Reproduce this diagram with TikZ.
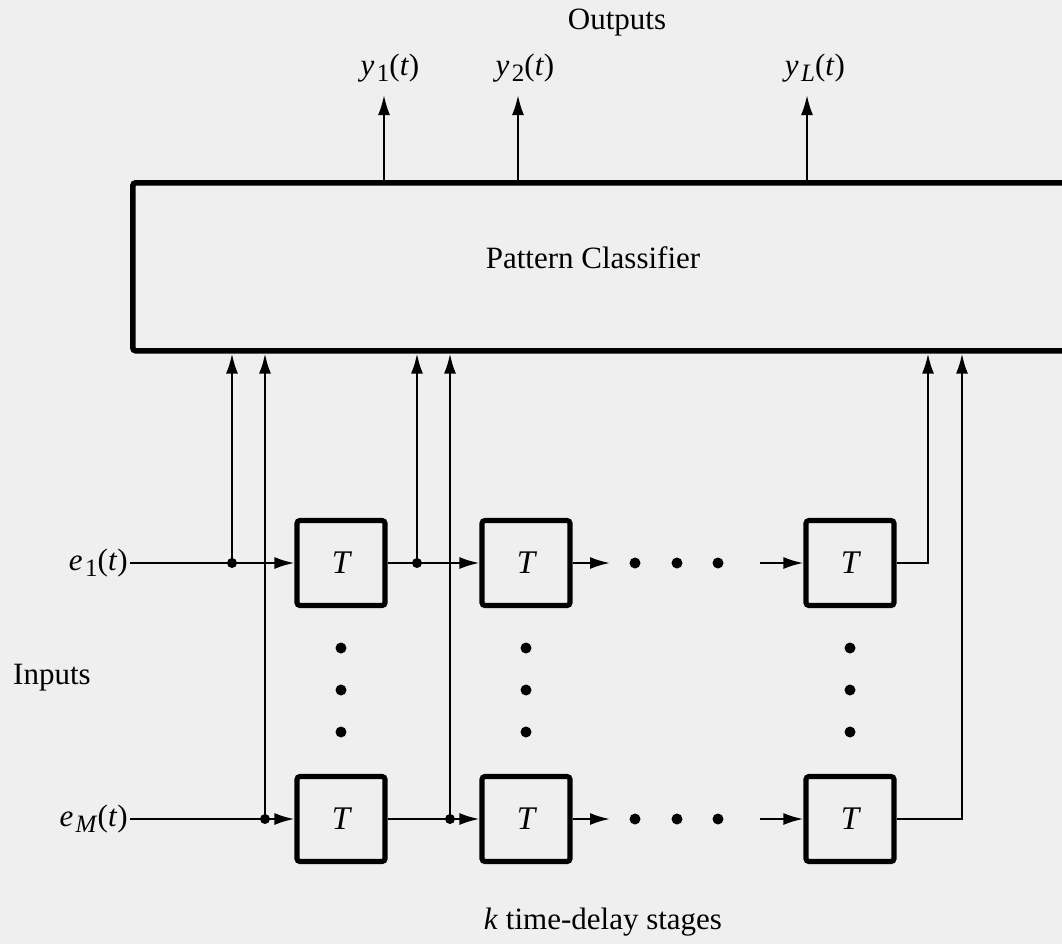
\documentclass[tikz,border=0pt]{standalone}
\usepackage{fontspec}
\setmainfont{Liberation Serif}
\usetikzlibrary{arrows.meta}
\definecolor{bgc}{RGB}{239,239,239}
\newcommand\sig[2]{\textit{#1}\kern0.08em\raisebox{-0.45ex}{\fontsize{12.5}{13}\selectfont#2}(\textit{t})}
\begin{document}
\begin{tikzpicture}[x=0.5pt,y=-0.5pt,
  every node/.style={font=\fontsize{15.5}{18}\selectfont},
  tbox/.style={draw, line width=2.6pt, rounded corners=1.5pt, minimum width=44pt, minimum height=42.5pt, inner sep=0pt, font=\fontsize{16.5}{18}\selectfont\itshape},
  wire/.style={line width=1.1pt},
  arr/.style={wire, -{Latex[length=10pt,width=6pt]}},
  jdot/.style={circle, fill, inner sep=0pt, minimum size=5pt},
  edot/.style={circle, fill, inner sep=0pt, minimum size=5.5pt}]
\fill[bgc] (0,0) rectangle (1062,944);
\useasboundingbox (0,0) rectangle (1062,944);
\clip (0,0) rectangle (1062,944);

% classifier
\node[draw, line width=2.8pt, rounded corners=1.5pt, minimum width=475pt, minimum height=84pt, anchor=north west] (PC) at (130,180) {};
\node (pclab) at (593,258) {Pattern Classifier};

% labels
\node (outs) at (617,23) {Outputs};
\node (y1) at (390,68) {\sig{y}{1}};
\node (y2) at (525,68) {\sig{y}{2}};
\node (yL) at (815,68) {\sig{y}{\textit{L}}};
\node (ins) at (52,678) {Inputs};
\node (kst) at (603,922) {\textit{k} time-delay stages};
\node[anchor=east, inner sep=1pt] (e1) at (130,563) {\sig{e}{1}};
\node[anchor=east, inner sep=1pt] (eM) at (130,819) {\sig{e}{\textit{M}}};

% delay boxes
\node[tbox] (T11) at (341,563) {T};
\node[tbox] (T12) at (526,563) {T};
\node[tbox] (T13) at (850,563) {T};
\node[tbox] (TM1) at (341,819) {T};
\node[tbox] (TM2) at (526,819) {T};
\node[tbox] (TM3) at (850,819) {T};

% coordinates
\coordinate (j11) at (232,563);
\coordinate (j12) at (417,563);
\coordinate (jM1) at (265,819);
\coordinate (jM2) at (450,819);
\coordinate (r1) at (928,563);
\coordinate (rM) at (962,819);
\coordinate (a1e) at (610,563);
\coordinate (a1s) at (760,563);
\coordinate (aMe) at (610,819);
\coordinate (aMs) at (760,819);
\coordinate (o1) at (384,95);
\coordinate (o2) at (518,95);
\coordinate (oL) at (807,95);

% outputs
\draw[arr] (o1 |- PC.north) -- (o1);
\draw[arr] (o2 |- PC.north) -- (o2);
\draw[arr] (oL |- PC.north) -- (oL);

% row 1
\draw[arr] (e1.east) -- (T11.west);
\draw[arr] (T11.east) -- (T12.west);
\draw[arr] (T12.east) -- (a1e);
\draw[arr] (a1s) -- (T13.west);
\draw[arr] (T13.east) -| (r1 |- PC.south);
\draw[arr] (j11) -- (j11 |- PC.south);
\draw[arr] (j12) -- (j12 |- PC.south);
\node[jdot] (d11) at (j11) {};
\node[jdot] (d12) at (j12) {};

% row M
\draw[arr] (eM.east) -- (TM1.west);
\draw[arr] (TM1.east) -- (TM2.west);
\draw[arr] (TM2.east) -- (aMe);
\draw[arr] (aMs) -- (TM3.west);
\draw[arr] (TM3.east) -| (rM |- PC.south);
\draw[arr] (jM1) -- (jM1 |- PC.south);
\draw[arr] (jM2) -- (jM2 |- PC.south);
\node[jdot] (dM1) at (jM1) {};
\node[jdot] (dM2) at (jM2) {};

% horizontal ellipses
\foreach \x in {635,677,718} {
  \node[edot] at (\x,563) {};
  \node[edot] at (\x,819) {};
}
% vertical ellipses
\foreach \x in {341,526,850} {
  \foreach \y in {648,690,732} {
    \node[edot] at (\x,\y) {};
  }
}
\end{tikzpicture}
\end{document}
